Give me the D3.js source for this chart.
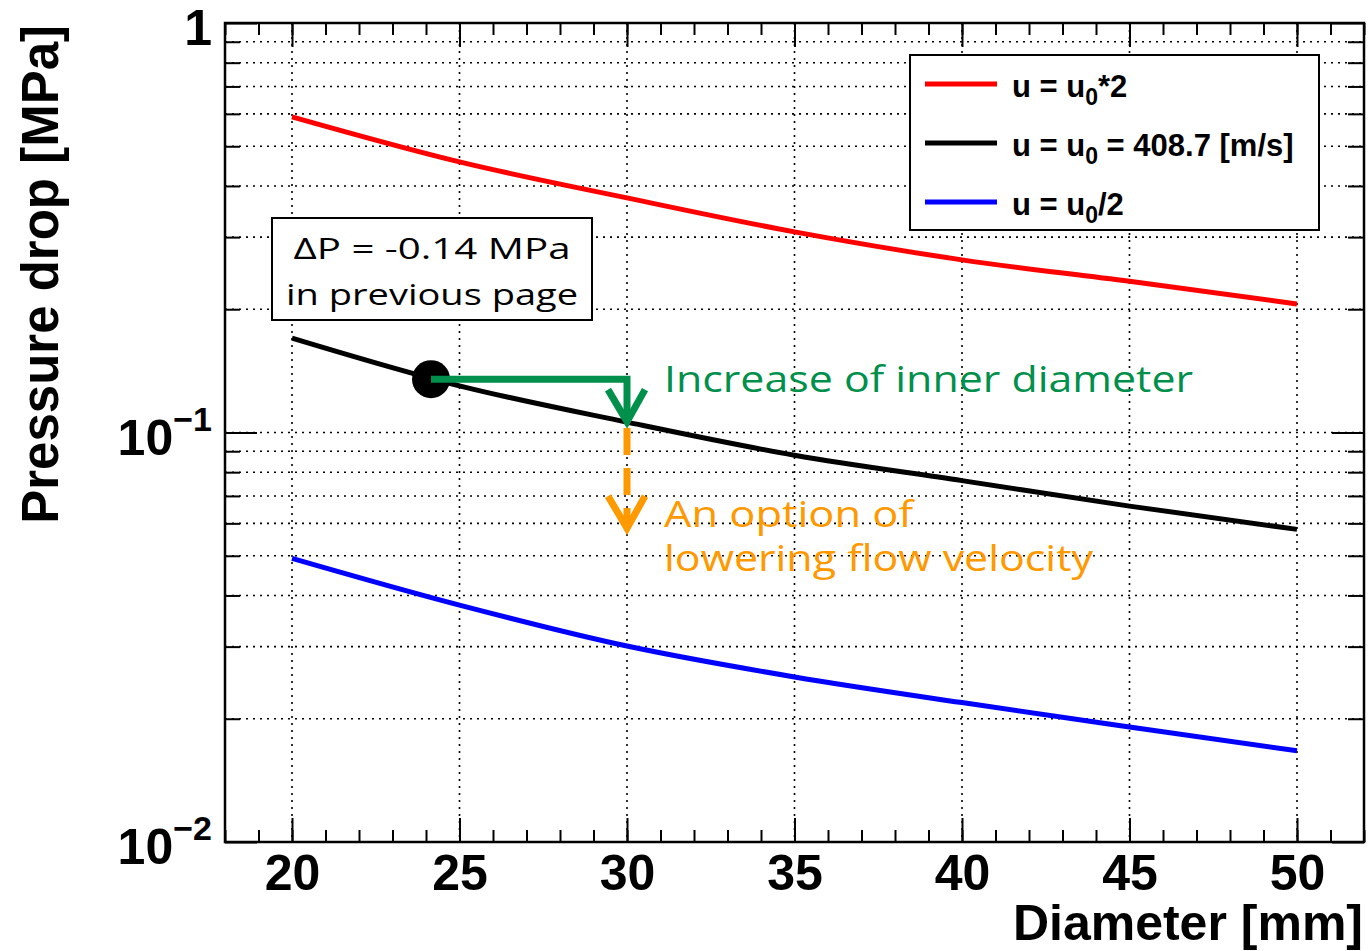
<!DOCTYPE html>
<html>
<head>
<meta charset="utf-8">
<script src="https://cdn.jsdelivr.net/npm/d3@7"></script>
<style>
  body { margin: 0; background: #fff; }
  .axis text, .title, .legend text, .ylabel { font-family: "Liberation Sans", Arial, sans-serif; font-weight: bold; fill: #000; }
  .grid line { stroke: #000; stroke-width: 1.6; stroke-dasharray: 2,5; }
  .note { font-family: "Open Sans", "Noto Sans", sans-serif; font-weight: 500; }
</style>
</head>
<body>
<div id="chart"></div>
<script>
// Values
var diameters = [20, 25, 30, 35, 40, 45, 50];
var dpDouble  = [0.590, 0.458, 0.374, 0.309, 0.264, 0.234, 0.206];
var dpNominal = [0.170, 0.130, 0.106, 0.088, 0.0763, 0.0661, 0.0580];
var dpHalf    = [0.0493, 0.0379, 0.0301, 0.0253, 0.0219, 0.0191, 0.0167];

var xMajorTicks = [20, 25, 30, 35, 40, 45, 50];
var yDecades = [1, 0.1, 0.01];
var yDecadeExponents = ["", "\u22121", "\u22122"];

var seriesColors = ["#ff0000", "#000000", "#0000ff"];
var legendLabels = [["u = u", "0", "*2"], ["u = u", "0", " = 408.7 [m/s]"], ["u = u", "0", "/2"]];

// annotation: previous design point and the two arrows
var previousPoint = [24.15, 0.135];
var newDiameter = 30;
var greenArrowTip = 0.1063;
var orangeArrowRange = [0.1026, 0.0584];
var noteLines = ["\u0394P = -0.14 MPa", "in previous page"];
var greenText = ["Increase of inner diameter"];
var orangeText = ["An option of", "lowering flow velocity"];

window.addEventListener('DOMContentLoaded', drawChart);

function drawChart() {
  var W = 1369, H = 951;
  var left = 225, right = 1364, top = 23, bottom = 842;

  var svg = d3.select("#chart")
    .append("svg")
    .attr("width", W)
    .attr("height", H);

  var x = d3.scaleLinear().domain([18, 52]).range([left, right]);
  var y = d3.scaleLog().domain([0.01, 1]).range([bottom, top]);

  var xMinor = d3.range(18, 53, 1);
  var yMinor = [];
  [0.01, 0.1].forEach(function(dec) {
    for (var k = 2; k <= 9; k++) yMinor.push(k * dec);
  });
  var yAll = yDecades.concat(yMinor);

  // Grid
  var grid = svg.append("g").attr("class", "grid");
  grid.selectAll(".gx")
    .data(xMajorTicks)
    .enter().append("line")
    .attr("x1", function(d) { return x(d); })
    .attr("x2", function(d) { return x(d); })
    .attr("y1", top)
    .attr("y2", bottom);
  grid.selectAll(".gy")
    .data(yAll.filter(function(d) { return d < 1 && d > 0.01; }))
    .enter().append("line")
    .attr("x1", left)
    .attr("x2", right)
    .attr("y1", function(d) { return y(d); })
    .attr("y2", function(d) { return y(d); });

  // Curves
  var line = d3.line()
    .x(function(d) { return x(d[0]); })
    .y(function(d) { return y(d[1]); })
    .curve(d3.curveMonotoneX);

  [dpDouble, dpNominal, dpHalf].forEach(function(vals, i) {
    svg.append("path")
      .datum(diameters.map(function(d, j) { return [d, vals[j]]; }))
      .attr("fill", "none")
      .attr("stroke", seriesColors[i])
      .attr("stroke-width", 5)
      .attr("d", line);
  });

  // Axes (ticks pointing inward on all four sides)
  function addAxis(axis, tr) {
    var g = svg.append("g").attr("class", "axis").attr("transform", tr).call(axis);
    g.select(".domain").remove();
    g.selectAll(".tick line").attr("stroke", "#000").attr("stroke-width", 2);
    return g;
  }

  addAxis(d3.axisBottom(x).tickValues(xMinor).tickSizeInner(-12).tickSizeOuter(0).tickFormat(""), "translate(0," + bottom + ")");
  var xb = addAxis(d3.axisBottom(x).tickValues(xMajorTicks).tickSizeInner(-24).tickSizeOuter(0).tickPadding(12), "translate(0," + bottom + ")");
  xb.selectAll("text").attr("font-size", 50);
  addAxis(d3.axisTop(x).tickValues(xMinor).tickSizeInner(-12).tickSizeOuter(0).tickFormat(""), "translate(0," + top + ")");
  addAxis(d3.axisTop(x).tickValues(xMajorTicks).tickSizeInner(-24).tickSizeOuter(0).tickFormat(""), "translate(0," + top + ")");

  addAxis(d3.axisLeft(y).tickValues(yMinor).tickSizeInner(-15).tickSizeOuter(0).tickFormat(""), "translate(" + left + ",0)");
  addAxis(d3.axisLeft(y).tickValues(yDecades).tickSizeInner(-32).tickSizeOuter(0).tickFormat(""), "translate(" + left + ",0)");
  addAxis(d3.axisRight(y).tickValues(yMinor).tickSizeInner(-16).tickSizeOuter(0).tickFormat(""), "translate(" + right + ",0)");
  addAxis(d3.axisRight(y).tickValues(yDecades).tickSizeInner(-32).tickSizeOuter(0).tickFormat(""), "translate(" + right + ",0)");

  // y tick labels 1, 10^-1, 10^-2
  yDecades.forEach(function(d, i) {
    var t = svg.append("text")
      .attr("class", "ylabel")
      .attr("text-anchor", "end")
      .attr("x", 212)
      .attr("y", y(d) + 22)
      .attr("font-size", 50);
    if (i === 0) {
      t.text("1");
    } else {
      t.append("tspan").text("10");
      t.append("tspan").attr("font-size", 34).attr("dy", -24).text(yDecadeExponents[i]);
    }
  });

  // Frame
  svg.append("rect")
    .attr("x", left)
    .attr("y", top)
    .attr("width", right - left)
    .attr("height", bottom - top)
    .attr("fill", "none")
    .attr("stroke", "#000")
    .attr("stroke-width", 2.5);

  // Axis titles
  svg.append("text")
    .attr("class", "title")
    .attr("text-anchor", "end")
    .attr("x", 1363)
    .attr("y", 940)
    .attr("font-size", 50)
    .text("Diameter [mm]");

  svg.append("text")
    .attr("class", "title")
    .attr("text-anchor", "end")
    .attr("transform", "rotate(-90)")
    .attr("x", -25)
    .attr("y", 58)
    .attr("font-size", 51)
    .text("Pressure drop [MPa]");

  // Legend
  var legend = svg.append("g").attr("class", "legend");
  legend.append("rect")
    .attr("x", 910)
    .attr("y", 55)
    .attr("width", 409)
    .attr("height", 175)
    .attr("fill", "#fff")
    .attr("stroke", "#000")
    .attr("stroke-width", 2);

  legendLabels.forEach(function(parts, i) {
    var ly = 84 + i * 59;
    legend.append("line")
      .attr("x1", 925)
      .attr("x2", 997)
      .attr("y1", ly)
      .attr("y2", ly)
      .attr("stroke", seriesColors[i])
      .attr("stroke-width", 5);
    var t = legend.append("text")
      .attr("x", 1012)
      .attr("y", ly + 13)
      .attr("font-size", 31);
    t.append("tspan").text(parts[0]);
    t.append("tspan").attr("font-size", 23).attr("dy", 8).text(parts[1]);
    t.append("tspan").attr("dy", -8).text(parts[2]);
  });

  // Note box
  svg.append("rect")
    .attr("x", 272)
    .attr("y", 218)
    .attr("width", 320)
    .attr("height", 102)
    .attr("fill", "#fff")
    .attr("stroke", "#000")
    .attr("stroke-width", 2);

  var noteWidths = [277, 292];
  svg.selectAll(".noteLine")
    .data(noteLines)
    .enter().append("text")
    .attr("class", "note")
    .attr("text-anchor", "middle")
    .attr("x", 432)
    .attr("y", function(d, i) { return 259 + i * 46; })
    .attr("font-size", 30)
    .attr("textLength", function(d, i) { return noteWidths[i]; })
    .attr("lengthAdjust", "spacingAndGlyphs")
    .text(function(d) { return d; });

  // Previous design point
  svg.append("circle")
    .attr("cx", x(previousPoint[0]))
    .attr("cy", y(previousPoint[1]))
    .attr("r", 19)
    .attr("fill", "#000");

  // Green arrow
  var green = "#00904c";
  var ax = x(newDiameter);
  svg.append("path")
    .attr("d", d3.line()([[x(previousPoint[0]), y(previousPoint[1])], [ax, y(previousPoint[1])], [ax, y(greenArrowTip) - 4]]))
    .attr("fill", "none")
    .attr("stroke", green)
    .attr("stroke-width", 7);
  svg.append("path")
    .attr("d", d3.line()([[ax - 19, y(greenArrowTip) - 32], [ax, y(greenArrowTip)], [ax + 18, y(greenArrowTip) - 32]]))
    .attr("fill", "none")
    .attr("stroke", green)
    .attr("stroke-width", 7);

  // Orange dashed arrow
  var orange = "#ff9900";
  svg.append("line")
    .attr("x1", ax)
    .attr("x2", ax)
    .attr("y1", y(orangeArrowRange[0]))
    .attr("y2", y(orangeArrowRange[1]) - 6)
    .attr("stroke", orange)
    .attr("stroke-width", 7)
    .attr("stroke-dasharray", "27,13");
  svg.append("path")
    .attr("d", d3.line()([[ax - 19, y(orangeArrowRange[1]) - 32], [ax, y(orangeArrowRange[1])], [ax + 18, y(orangeArrowRange[1]) - 32]]))
    .attr("fill", "none")
    .attr("stroke", orange)
    .attr("stroke-width", 7);

  // Arrow captions
  svg.selectAll(".greenText")
    .data(greenText)
    .enter().append("text")
    .attr("class", "note")
    .attr("x", 664)
    .attr("y", 392)
    .attr("font-size", 37)
    .attr("fill", green)
    .attr("textLength", 529)
    .attr("lengthAdjust", "spacingAndGlyphs")
    .text(function(d) { return d; });

  var orangeWidths = [249, 429];
  svg.selectAll(".orangeText")
    .data(orangeText)
    .enter().append("text")
    .attr("class", "note")
    .attr("x", 664)
    .attr("y", function(d, i) { return 527 + i * 44; })
    .attr("font-size", 37)
    .attr("fill", orange)
    .attr("textLength", function(d, i) { return orangeWidths[i]; })
    .attr("lengthAdjust", "spacingAndGlyphs")
    .text(function(d) { return d; });
}
</script>
</body>
</html>
